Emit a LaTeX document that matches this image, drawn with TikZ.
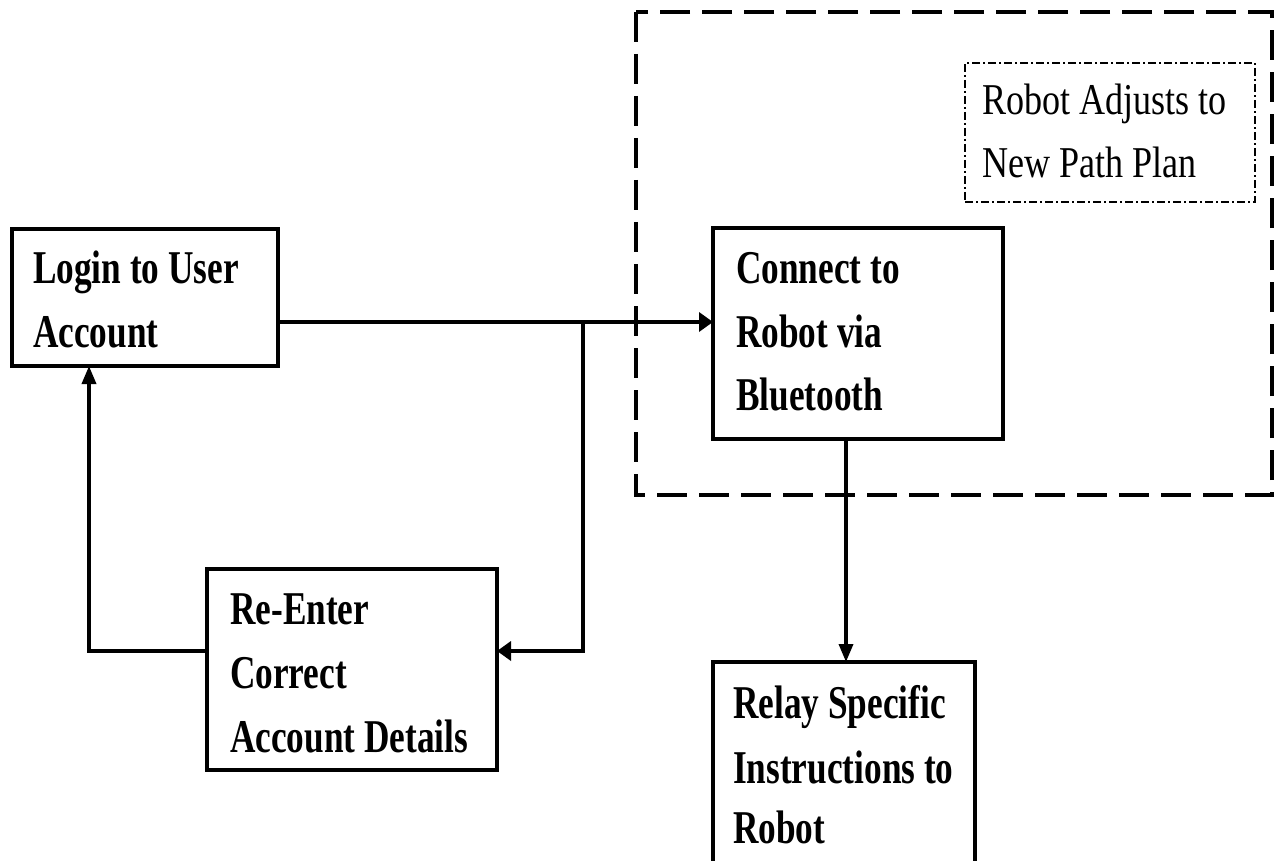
\documentclass[tikz,border=0pt]{standalone}
\usepackage{fontspec}
\setmainfont{Liberation Serif}[FakeStretch=0.75]
\newfontfamily\notefont{Liberation Serif}[FakeStretch=0.82]
\usetikzlibrary{arrows.meta}

\begin{document}
\begin{tikzpicture}[x=1pt,y=-1pt,
  stepbox/.style={draw, line width=4pt, rectangle, inner sep=0pt, outer sep=0pt},
  linetext/.style={anchor=base west, inner sep=0pt, font=\fontsize{47}{64}\selectfont\bfseries},
  notetext/.style={anchor=base west, inner sep=0pt, font=\notefont\fontsize{44}{63}\selectfont},
  flow/.style={line width=3.5pt},
  harrow/.style={-{Triangle[length=14pt,width=19pt]}},
  varrow/.style={-{Triangle[length=18pt,width=14pt]}},
  groupbox/.style={draw, line width=4.5pt, dash pattern=on 30pt off 12pt},
  notebox/.style={draw, line width=1.5pt, dash pattern=on 8pt off 3pt on 2pt off 3pt}]
\useasboundingbox (0,0) rectangle (1277,861);

% dashed group around the robot side
\draw[groupbox] (636,12) rectangle (1272,495);

% boxes
\node[stepbox, minimum width=266pt, minimum height=137pt] (login) at (145,297.5) {};
\node[stepbox, minimum width=290pt, minimum height=211pt] (conn) at (858,333.5) {};
\node[stepbox, minimum width=290pt, minimum height=201pt] (reenter) at (352,669.5) {};
\node[stepbox, minimum width=262pt, minimum height=208pt] (relay) at (844,766) {};
\node[notebox, minimum width=290pt, minimum height=139pt] (note) at (1110,132.5) {};

% box texts
\node[linetext] (login1) at (33,283) {Login to User};
\node[linetext] (login2) at (33,347) {Account};
\node[linetext] (conn1) at (736,283) {Connect to};
\node[linetext] (conn2) at (736,347) {Robot via};
\node[linetext] (conn3) at (736,410) {Bluetooth};
\node[linetext] (re1) at (230,624) {Re-Enter};
\node[linetext] (re2) at (230,688) {Correct};
\node[linetext] (re3) at (230,752) {Account Details};
\node[linetext] (relay1) at (733,718) {Relay Specific};
\node[linetext] (relay2) at (733,783) {Instructions to};
\node[linetext] (relay3) at (733,843) {Robot};
\node[notetext] (note1) at (982,115) {Robot Adjusts to};
\node[notetext] (note2) at (982,178) {New Path Plan};

% junction points
\coordinate (split) at (583,322);
\coordinate (back) at (583,651);
\coordinate (loopcorner) at (89,651);
\coordinate (down) at (846,0);

% connectors
\draw[flow, harrow] (split -| login.east) -- (split -| conn.west);
\draw[flow, harrow] (split) -- (back) -- (back -| reenter.east);
\draw[flow, varrow] (back -| reenter.west) -- (loopcorner) -- (loopcorner |- login.south);
\draw[flow, varrow] (down |- conn.south) -- (down |- relay.north);
\end{tikzpicture}
\end{document}
